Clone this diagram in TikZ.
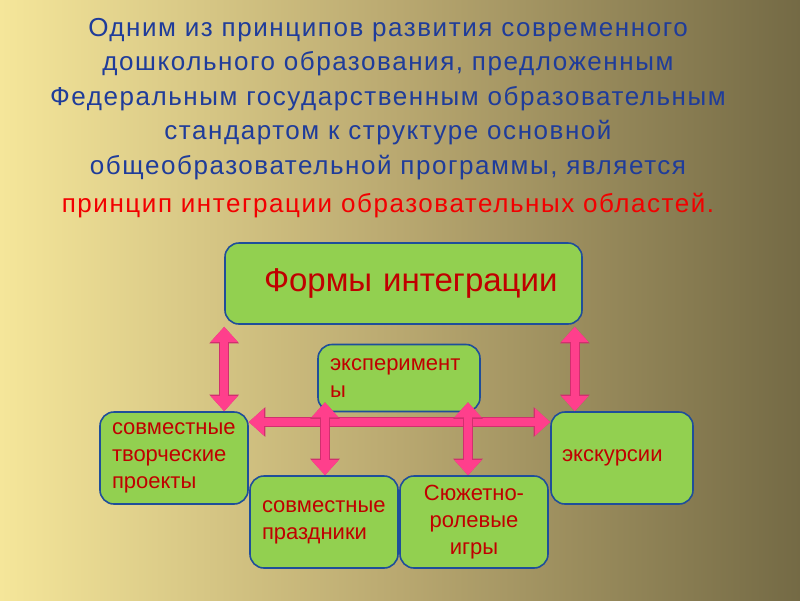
\documentclass[tikz,border=0pt]{standalone}
\usepackage{fontspec}
\setmainfont{Liberation Sans}
\usetikzlibrary{arrows.meta,calc}
\definecolor{bgleft}{HTML}{F5E69A}
\definecolor{bgmid}{HTML}{B9A870}
\definecolor{bgright}{HTML}{746A45}
\definecolor{titleblue}{HTML}{1F3C9A}
\definecolor{titlered}{HTML}{F20000}
\definecolor{boxgreen}{HTML}{92D050}
\definecolor{boxblue}{HTML}{1F4E9A}
\definecolor{boxred}{HTML}{C00000}
\definecolor{arrowpink}{HTML}{FF3F8C}
\definecolor{arrowedge}{HTML}{D0306E}
\tikzset{
  box/.style={rounded corners=14pt, fill=boxgreen, draw=boxblue, line width=1.6pt,
    text=boxred, font=\fontsize{22}{27}\selectfont, align=left, inner xsep=12pt, inner ysep=0pt},
  dblarrow/.style={draw=arrowpink, line width=8pt,
    {Triangle[width=26pt,length=15pt]}-{Triangle[width=26pt,length=15pt]},
    preaction={draw=arrowedge, line width=9.5pt,
      {Triangle[width=28.5pt,length=16.5pt]}-{Triangle[width=28.5pt,length=16.5pt]}}},
  title/.style={font=\fontsize{26}{34.5}\selectfont\addfontfeature{LetterSpace=6}, align=center, inner sep=0pt}
}
\begin{document}
\begin{tikzpicture}[x=1pt,y=-1pt]
\useasboundingbox (0,0) rectangle (800,600);
\shade[left color=bgleft, right color=bgright, middle color=bgmid] (0,0) rectangle (800,600);
\node[title, text=titleblue, anchor=north] (t) at (388,18)
  {Одним из принципов развития современного\\
   дошкольного образования, предложенным\\
   Федеральным государственным образовательным\\
   стандартом к структуре основной\\
   общеобразовательной программы, является\\[4pt]
   \textcolor{titlered}{принцип интеграции образовательных областей.}};
\node[box, minimum width=357pt, minimum height=81pt, text width=333pt, font=\fontsize{33}{38}\selectfont] (forms) at (403.5,283.5) {\hspace*{27pt}Формы интеграции};
\node[box, minimum width=162pt, minimum height=67pt, text width=138pt] (exper) at (399,378) {эксперимент\\ы};
\node[box, minimum width=148pt, minimum height=92pt, text width=124pt] (proj) at (174,458) {совместные\\творческие\\проекты};
\node[box, minimum width=148pt, minimum height=92pt, text width=124pt] (fest) at (324,522) {совместные\\праздники};
\node[box, minimum width=148pt, minimum height=92pt, text width=124pt, align=center] (plot) at (474,522) {Сюжетно-\\ролевые\\игры};
\node[box, minimum width=142pt, minimum height=92pt, text width=120pt, inner xsep=10pt] (exc) at (622,458) {экскурсии};
\coordinate (fl) at ($(forms.south west)+(0pt,-2pt)$);
\coordinate (fr) at ($(forms.south east)+(-8pt,-2pt)$);
\draw[dblarrow] (fl) -- (fl |- proj.north);
\draw[dblarrow] (fr) -- (fr |- exc.north);
\draw[dblarrow] ([yshift=36pt]proj.east) -- ([yshift=36pt]exc.west);
\coordinate (ml) at ($(fest.north)+(1pt,0pt)$);
\coordinate (mr) at ($(plot.north)+(-6pt,0pt)$);
\draw[dblarrow] (ml) -- ($(exper.south -| ml)+(0pt,10pt)$);
\draw[dblarrow] (mr) -- ($(exper.south -| mr)+(0pt,10pt)$);
\end{tikzpicture}
\end{document}
